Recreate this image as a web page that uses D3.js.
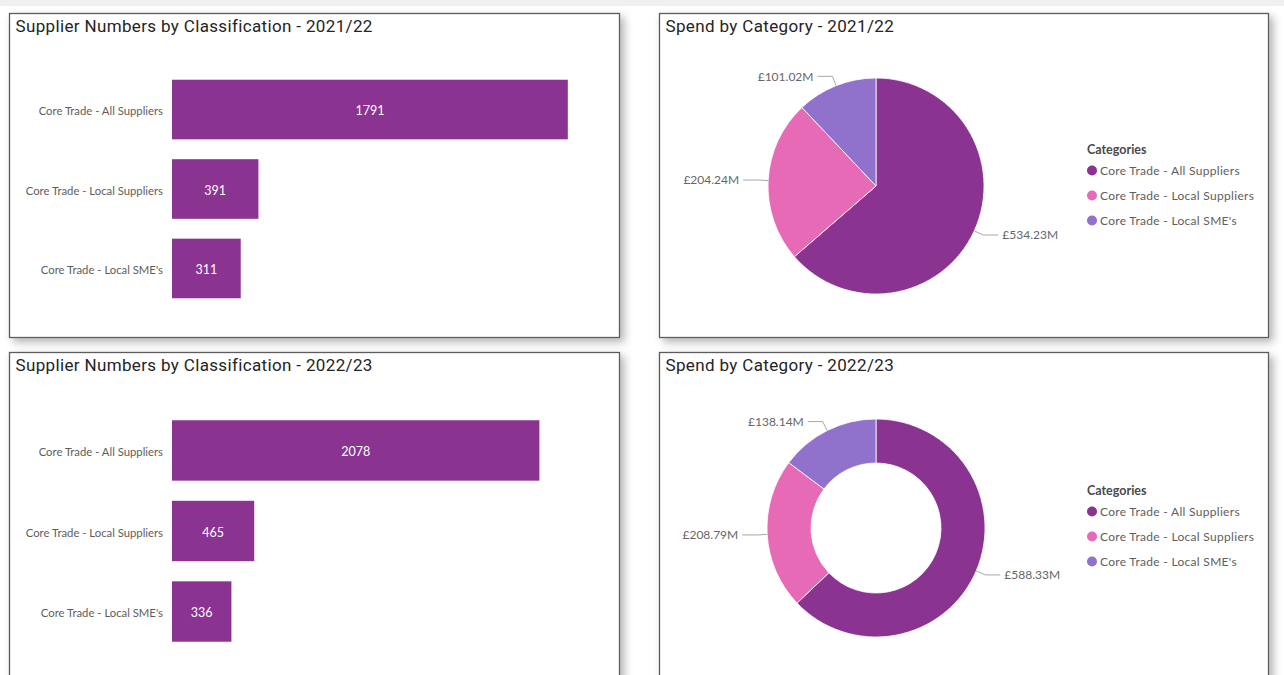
<!DOCTYPE html>
<html>
<head>
<meta charset="utf-8">
<script src="https://cdn.jsdelivr.net/npm/d3@7"></script>
<style>
  html, body { margin: 0; padding: 0; background: #ffffff; }
  svg { display: block; }
</style>
</head>
<body>
<script>
// ---- data ----
const categories = ["Core Trade - All Suppliers", "Core Trade - Local Suppliers", "Core Trade - Local SME's"];
const supplierCounts2122 = [1791, 391, 311];
const supplierCounts2223 = [2078, 465, 336];
const spendMillions2122 = [534.23, 204.24, 101.02];
const spendMillions2223 = [588.33, 208.79, 138.14];
const barAxisMax2122 = 2000;
const barAxisMax2223 = 2500;
const titles = [
  "Supplier Numbers by Classification - 2021/22",
  "Spend by Category - 2021/22",
  "Supplier Numbers by Classification - 2022/23",
  "Spend by Category - 2022/23"
];
const legendTitle = "Categories";

// ---- styling ----
const W = 1284, H = 675;
const barColor = "#8A3391";
const palette = ["#8A3391", "#E66AB6", "#9072CC"];
const color = d3.scaleOrdinal().domain(categories).range(palette);
const uiFont = "Lato, 'Open Sans', sans-serif";
const titleFont = "Roboto, 'DejaVu Sans', sans-serif";
const textGrey = "#605e5c";

const svg = d3.select("body").append("svg")
  .attr("width", W).attr("height", H);

// drop shadow for the cards
const defs = svg.append("defs");
const f = defs.append("filter").attr("id", "cardShadow")
  .attr("x", "-10%").attr("y", "-10%").attr("width", "130%").attr("height", "130%");
f.append("feDropShadow").attr("dx", 4).attr("dy", 4)
  .attr("stdDeviation", 4).attr("flood-color", "#000").attr("flood-opacity", 0.3);

// top strip of the report canvas
svg.append("rect").attr("x", 0).attr("y", 0).attr("width", W).attr("height", 6).attr("fill", "#f0f0f0");

const panels = [
  { x: 9.5, y: 13.5, w: 610, h: 324, plot: [26.5, 324.5] },
  { x: 659.5, y: 13.5, w: 609, h: 324 },
  { x: 9.5, y: 352.5, w: 610, h: 330, plot: [27.5, 329.5] },
  { x: 659.5, y: 352.5, w: 609, h: 330 }
];

panels.forEach(p => {
  svg.append("rect")
    .attr("x", p.x).attr("y", p.y).attr("width", p.w).attr("height", p.h)
    .attr("fill", "#ffffff").attr("stroke", "#5c5c5c").attr("stroke-width", 1.3)
    .attr("filter", "url(#cardShadow)");
});

panels.forEach((p, i) => {
  svg.append("text")
    .attr("x", p.x + 6).attr("y", p.y + 18)
    .attr("font-family", titleFont).attr("font-size", 17)
    .attr("letter-spacing", 0.35)
    .attr("fill", "#252423")
    .text(titles[i]);
});

// ---- horizontal bar charts ----
function drawBars(p, values, axisMax) {
  const g = svg.append("g").attr("transform", `translate(${p.x},${p.y})`);
  const rows = categories.map((c, i) => ({ cat: c, value: values[i] }));
  const y = d3.scaleBand().domain(categories)
    .range(p.plot)
    .paddingInner(0.25).paddingOuter(0.5);
  const x = d3.scaleLinear().domain([0, axisMax]).range([162.5, 604.5]);

  g.selectAll("rect.bar").data(rows).join("rect")
    .attr("class", "bar")
    .attr("x", x(0)).attr("y", d => y(d.cat))
    .attr("width", d => x(d.value) - x(0)).attr("height", y.bandwidth())
    .attr("fill", barColor);

  const axis = d3.axisLeft(y).tickSize(0).tickPadding(9);
  const ax = g.append("g").attr("transform", `translate(${x(0)},0)`).call(axis);
  ax.select(".domain").remove();
  ax.selectAll("text")
    .attr("font-family", uiFont).attr("font-size", 11.3)
    .attr("dy", "0.5em")
    .attr("fill", textGrey);

  g.selectAll("text.val").data(rows).join("text")
    .attr("class", "val")
    .attr("x", d => (x(0) + x(d.value)) / 2)
    .attr("y", d => y(d.cat) + y.bandwidth() / 2 + 1.5)
    .attr("dy", "0.35em").attr("text-anchor", "middle")
    .attr("font-family", uiFont).attr("font-size", 12.5)
    .attr("fill", "#ffffff")
    .text(d => d3.format("d")(d.value));
}

drawBars(panels[0], supplierCounts2122, barAxisMax2122);
drawBars(panels[2], supplierCounts2223, barAxisMax2223);

// ---- pie / donut charts ----
function drawPie(values, cx, cy, outerR, innerR) {
  const g = svg.append("g").attr("transform", `translate(${cx},${cy})`);
  const rows = categories.map((c, i) => ({ cat: c, value: values[i] }));
  const pie = d3.pie().value(d => d.value).sort(null);
  const arcs = pie(rows);
  const arc = d3.arc().innerRadius(innerR).outerRadius(outerR);

  g.selectAll("path.slice").data(arcs).join("path")
    .attr("class", "slice")
    .attr("d", arc)
    .attr("fill", d => color(d.data.cat))
    .attr("stroke", "#ffffff").attr("stroke-width", 0.8);

  const edge = d3.arc().innerRadius(outerR).outerRadius(outerR);
  const elbow = d3.arc().innerRadius(outerR + 10).outerRadius(outerR + 10);
  const fmt = v => "£" + d3.format(".2f")(v) + "M";

  arcs.forEach(a => {
    const [x0, y0] = edge.centroid(a);
    const [x1, y1] = elbow.centroid(a);
    const right = x1 > 0;
    const x2 = x1 + (right ? 15 : -15);
    g.append("polyline")
      .attr("points", [[x0, y0], [x1, y1], [x2, y1]].map(q => q.join(",")).join(" "))
      .attr("fill", "none").attr("stroke", "#a8a8a8").attr("stroke-width", 1);
    g.append("text")
      .attr("x", x2 + (right ? 4 : -4)).attr("y", y1)
      .attr("dy", "0.35em")
      .attr("text-anchor", right ? "start" : "end")
      .attr("font-family", uiFont).attr("font-size", 12)
      .attr("fill", "#666666")
      .text(fmt(a.data.value));
  });
}

function drawLegend(x, y) {
  const g = svg.append("g").attr("transform", `translate(${x},${y})`);
  g.append("text").attr("x", 0).attr("y", 0).attr("dy", "0.35em")
    .attr("font-family", uiFont).attr("font-size", 12.5).attr("font-weight", 700)
    .attr("fill", "#4a4a4a").text(legendTitle);
  const items = g.selectAll("g.item").data(categories).join("g")
    .attr("class", "item")
    .attr("transform", (d, i) => `translate(0,${20.5 + i * 25})`);
  items.append("circle").attr("cx", 5).attr("cy", 0).attr("r", 5)
    .attr("fill", d => color(d));
  items.append("text").attr("x", 13).attr("y", 0).attr("dy", "0.35em")
    .attr("font-family", uiFont).attr("font-size", 12)
    .attr("letter-spacing", 0.3)
    .attr("fill", textGrey).text(d => d);
}

drawPie(spendMillions2122, 876, 186, 108, 0);
drawLegend(1087, 150);
drawPie(spendMillions2223, 876, 528, 109, 65);
drawLegend(1087, 491);
</script>
</body>
</html>
